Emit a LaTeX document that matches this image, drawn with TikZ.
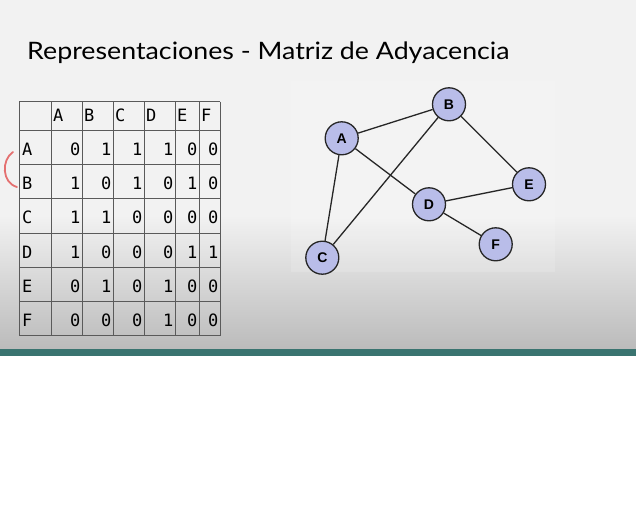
\documentclass[tikz,border=0pt]{standalone}
\usepackage{fontspec}
\newfontfamily\titlefont{Lato}
\newfontfamily\tabfont{DejaVu Sans Mono}
\newfontfamily\nodefont{Liberation Sans}
\definecolor{slidebg}{HTML}{F2F2F2}
\definecolor{slidelow}{HTML}{BBBBBB}
\definecolor{teal}{HTML}{3A7470}
\definecolor{vertexfill}{HTML}{B9BDE9}
\definecolor{gridline}{HTML}{5A5A5A}
\definecolor{pen}{HTML}{E25A5A}
\tikzset{
  vertex/.style={circle, draw=black!85, line width=1.3pt, fill=vertexfill,
    minimum size=33pt, inner sep=0pt, font=\nodefont\bfseries\fontsize{14}{14}\selectfont},
  edge/.style={draw=black!85, line width=1.3pt},
  cell/.style={inner sep=0pt, font=\tabfont\fontsize{17}{17}\selectfont, text=black},
  grid/.style={draw=gridline, line width=0.9pt}
}
\begin{document}
\begin{tikzpicture}[x=1pt,y=-1pt]
\useasboundingbox (0,0) rectangle (636,513);
% slide background with its darker lower part
\fill[slidebg] (0,0) rectangle (636,216);
\shade[top color=slidebg, bottom color=slidelow] (0,215) rectangle (636,349.5);
\fill[teal] (0,349) rectangle (636,356);
\fill[white] (0,356) rectangle (636,513);
% title
\node[anchor=base west, inner sep=0pt, xscale=1.115, font=\titlefont\fontsize{24}{24}\selectfont] (title) at (27,60) {Representaciones - Matriz de Adyacencia};

% adjacency matrix: grid
\foreach \x in {19,51,82,113,144,175,199,220}
  \draw[grid] (\x,101.7) -- (\x,335.7);
\foreach \y in {101.7,130.7,164.7,198.7,233.3,267.3,301.3,335.7}
  \draw[grid] (19,\y) -- (220,\y);
% column headers
\foreach \l/\x in {A/51,B/82,C/113,D/144,E/175,F/199}
  \node[cell, anchor=base west] (h\l) at (\x+2,122) {\l};
% rows: label and entries
\foreach \r/\y/\vals in {A/130.7/{0,1,1,1,0,0}, B/164.7/{1,0,1,0,1,0}, C/198.7/{1,1,0,0,0,0},
                         D/233.3/{1,0,0,0,1,1}, E/267.3/{0,1,0,1,0,0}, F/301.3/{0,0,0,1,0,0}} {
  \node[cell, anchor=base west] (r\r) at (22,\y+25) {\r};
  \foreach \v [count=\j] in \vals {
    \pgfmathsetmacro\xr{{82,113,144,175,199,220}[\j-1]-1.4}
    \node[cell, anchor=base east] (m\r\j) at (\xr,\y+25) {\v};
  }
}
% pen stroke beside the rows
\draw[pen, line width=1.8pt, line cap=round, opacity=0.85] (13,152) .. controls (1,160) and (2,183) .. (17,187);

% graph panel
\fill[white, opacity=0.15] (291,81) rectangle (555,272);
\node[vertex] (A) at (341.7,138.3) {A};
\node[vertex] (B) at (449,104.3) {B};
\node[vertex] (C) at (322.3,257.7) {C};
\node[vertex] (D) at (429,204.3) {D};
\node[vertex] (E) at (529,184.3) {E};
\node[vertex] (F) at (495.7,244.3) {F};
\draw[edge] (A) -- (B);
\draw[edge] (A) -- (C);
\draw[edge] (A) -- (D);
\draw[edge] (B) -- (C);
\draw[edge] (B) -- (E);
\draw[edge] (D) -- (E);
\draw[edge] (D) -- (F);
\end{tikzpicture}
\end{document}
